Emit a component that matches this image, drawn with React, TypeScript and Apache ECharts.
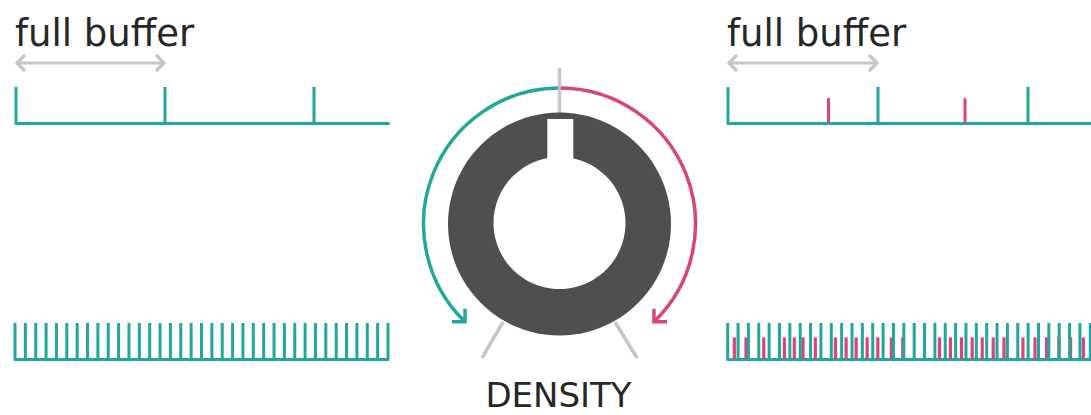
import React, { useEffect, useRef } from "react";
import * as echarts from "echarts";

// ---- data ----
const bufferLabel = "full buffer";
const knobLabel = "DENSITY";
// top strips, positions in buffer lengths
const sparseGrainsLeft = [0, 1, 2];
const sparseGrainsRight = [0, 1, 2];
const sparseRandomRight = [0.67, 1.58];
// bottom strips, positions in grain slots
const denseGrainsLeft = [0, 1, 2, 3, 4, 5, 6, 7, 8, 9, 10, 11, 12, 13, 14, 15, 16, 17, 18, 19, 20, 21, 22, 23, 24, 25, 26, 27, 28, 29, 30, 31, 32, 33, 34, 35, 36];
const denseGrainsRight = [0, 1, 2, 3, 4, 5, 6, 7, 8, 9, 10, 11, 12, 13, 14, 15, 16, 17, 18, 19, 20, 21, 22, 23, 24, 25, 26, 27, 28, 29, 30, 31, 32, 33, 34, 35];
const denseRandomRight = [0.64, 1.77, 3.48, 5.47, 6.43, 7.27, 8.46, 10.4, 11.43, 12.4, 13.46, 14.49, 15.8, 16.9, 20.44, 21.5, 22.57, 23.6, 24.57, 25.63, 26.67, 28.5, 29.66, 30.78, 31.97, 33.1, 34.33];
// visible axis extents
const sparseMaxLeft = 2.5;
const sparseMaxRight = 2.42;
const denseMaxLeft = 36;
const denseMaxRight = 35.07;

const TEAL = "#22a79e";
const PINK = "#d8457c";
const GRAY = "#c6c6c6";
const DARK = "#4e4f4f";
const TEXT = "#262626";

function tickSeries(gridIndex: number, xs: number[], h: number, color: string, w: number, z: number) {
  return {
    type: "custom",
    xAxisIndex: gridIndex,
    yAxisIndex: gridIndex,
    clip: false,
    z,
    data: xs.map((x) => [x, h]),
    renderItem: (params: any, api: any) => {
      const p0 = api.coord([api.value(0), 0]);
      const p1 = api.coord([api.value(0), api.value(1)]);
      return {
        type: "line",
        shape: { x1: p0[0], y1: p0[1], x2: p1[0], y2: p1[1] },
        style: { stroke: color, lineWidth: w, lineCap: "butt" },
      };
    },
  };
}

function doubleArrow(x1: number, x2: number, y: number) {
  const s = 7;
  const st = { stroke: GRAY, lineWidth: 3.2, fill: null, lineCap: "round", lineJoin: "round" };
  return [
    { type: "line", shape: { x1, y1: y, x2, y2: y }, style: st },
    { type: "polyline", shape: { points: [[x1 + s, y - s], [x1, y], [x1 + s, y + s]] }, style: st },
    { type: "polyline", shape: { points: [[x2 - s, y - s], [x2, y], [x2 - s, y + s]] }, style: st },
  ];
}

export default function App() {
  const ref = useRef<HTMLDivElement>(null);
  useEffect(() => {
    if (!ref.current) return;
    const chart = echarts.init(ref.current, null, { renderer: "svg" });
    const grids = [
      { left: 16, top: 87, width: 372.5, height: 36 },
      { left: 728, top: 87, width: 363, height: 36 },
      { left: 15, top: 323, width: 373, height: 36 },
      { left: 727.7, top: 323, width: 363.3, height: 36 },
    ];
    const xMax = [sparseMaxLeft, sparseMaxRight, denseMaxLeft, denseMaxRight];
    const cx = 559.5;
    const cy = 224;
    const R = 136;
    const a1 = (134 * Math.PI) / 180;
    const a2 = (46 * Math.PI) / 180;
    const tealEnd = [cx + R * Math.cos(a1), cy + R * Math.sin(a1)];
    const pinkEnd = [cx + R * Math.cos(a2), cy + R * Math.sin(a2)];
    const ah = 13;
    chart.setOption({
      animation: false,
      grid: grids,
      xAxis: grids.map((_, i) => ({
        type: "value",
        gridIndex: i,
        min: 0,
        max: xMax[i],
        axisLine: { show: true, lineStyle: { color: TEAL, width: 3 } },
        axisTick: { show: false },
        axisLabel: { show: false },
        splitLine: { show: false },
      })),
      yAxis: grids.map((_, i) => ({ type: "value", gridIndex: i, min: 0, max: 1, show: false })),
      series: [
        tickSeries(0, sparseGrainsLeft, 1, TEAL, 3, 3),
        tickSeries(1, sparseRandomRight, 0.69, PINK, 3, 2),
        tickSeries(1, sparseGrainsRight, 1, TEAL, 3, 3),
        tickSeries(2, denseGrainsLeft, 1, TEAL, 3, 3),
        tickSeries(3, denseRandomRight, 0.6, PINK, 3.2, 2),
        tickSeries(3, denseGrainsRight, 1, TEAL, 3, 3),
      ],
      graphic: [
        { type: "text", left: 15, top: 15, style: { text: bufferLabel, fontFamily: "DejaVu Sans", fontSize: 37, fill: TEXT } },
        { type: "text", left: 727, top: 15, style: { text: bufferLabel, fontFamily: "DejaVu Sans", fontSize: 37, fill: TEXT } },
        ...doubleArrow(17, 164, 63),
        ...doubleArrow(729, 877, 63),
        // knob pointer guide lines
        { type: "line", shape: { x1: cx, y1: 68, x2: cx, y2: 114 }, style: { stroke: GRAY, lineWidth: 3.5 } },
        { type: "line", shape: { x1: 503, y1: 322, x2: 482, y2: 358 }, style: { stroke: GRAY, lineWidth: 3.5 } },
        { type: "line", shape: { x1: 615, y1: 322, x2: 637, y2: 358 }, style: { stroke: GRAY, lineWidth: 3.5 } },
        // knob
        { type: "circle", shape: { cx, cy, r: 111.5 }, style: { fill: DARK }, z: 5 },
        { type: "circle", shape: { cx, cy: 223, r: 66 }, style: { fill: "#ffffff" }, z: 6 },
        { type: "rect", shape: { x: 547.3, y: 119, width: 26, height: 50 }, style: { fill: "#ffffff" }, z: 6 },
        // arcs
        { type: "arc", shape: { cx, cy, r: R, startAngle: a1, endAngle: 1.5 * Math.PI - 0.01, clockwise: true }, style: { stroke: TEAL, lineWidth: 3.5, fill: null } },
        { type: "arc", shape: { cx, cy, r: R, startAngle: -0.5 * Math.PI + 0.01, endAngle: a2, clockwise: true }, style: { stroke: PINK, lineWidth: 3.5, fill: null } },
        { type: "polyline", shape: { points: [[tealEnd[0], tealEnd[1] - ah], tealEnd, [tealEnd[0] - ah, tealEnd[1]]] }, style: { stroke: TEAL, lineWidth: 3.5, fill: null, lineJoin: "miter" } },
        { type: "polyline", shape: { points: [[pinkEnd[0], pinkEnd[1] - ah], pinkEnd, [pinkEnd[0] + ah, pinkEnd[1]]] }, style: { stroke: PINK, lineWidth: 3.5, fill: null, lineJoin: "miter" } },
        { type: "text", x: cx - 1, y: 395, style: { text: knobLabel, fontFamily: "DejaVu Sans", fontSize: 34, fill: TEXT, align: "center", verticalAlign: "middle" } },
      ],
    });
    return () => chart.dispose();
  }, []);
  return <div ref={ref} style={{ position: "fixed", left: 0, top: 0, width: 1091, height: 415, background: "#fff" }} />;
}
